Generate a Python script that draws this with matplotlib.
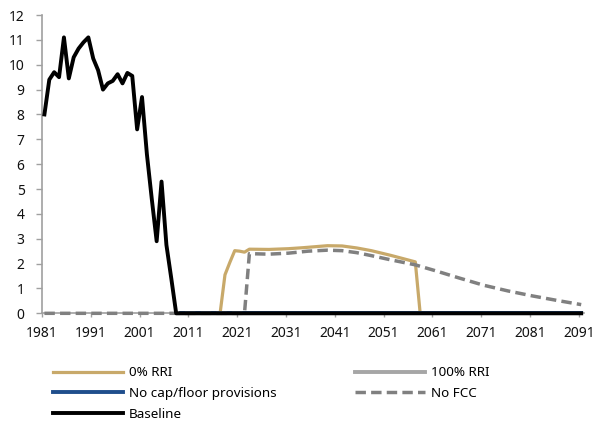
import matplotlib
matplotlib.use('Agg')
import matplotlib.pyplot as plt

plt.rcParams['font.family'] = ['Noto Sans', 'DejaVu Sans']

# baseline, yearly 1981-2008, then zero to 2091
base_years = list(range(1981, 2009)) + [2091]
base_vals = [8.0, 9.4, 9.7, 9.5, 11.1, 9.45, 10.3, 10.65, 10.9, 11.1,
             10.25, 9.78, 9.0, 9.25, 9.35, 9.62, 9.25, 9.67, 9.55, 7.4,
             8.7, 6.4, 4.6, 2.9, 5.3, 2.75, 1.4, 0.0, 0.0]

# 0% RRI
rri0_years = [2017, 2018, 2019, 2020, 2021, 2022, 2023, 2027, 2031, 2034,
              2039, 2042, 2045, 2048, 2052, 2057, 2058, 2091]
rri0_vals = [0.0, 1.55, 2.05, 2.52, 2.5, 2.46, 2.58, 2.57, 2.6, 2.64,
             2.72, 2.71, 2.63, 2.52, 2.33, 2.07, 0.0, 0.0]

# 100% RRI and no cap/floor (sit under the baseline)
rri100_years = [2009, 2091]
rri100_vals = [0.0, 0.0]
nocap_years = [2009, 2091]
nocap_vals = [0.0, 0.0]

# No FCC
fcc_years = [1981, 2022, 2023, 2027, 2031, 2035, 2039, 2042, 2045, 2048,
             2052, 2057, 2061, 2066, 2071, 2076, 2081, 2086, 2091]
fcc_vals = [0.0, 0.0, 2.4, 2.38, 2.42, 2.5, 2.54, 2.52, 2.44, 2.32,
            2.15, 1.95, 1.72, 1.42, 1.13, 0.9, 0.7, 0.52, 0.35]

xticks = list(range(1981, 2092, 10))
yticks = list(range(0, 13))

def pos(years):
    # excel category axis: points sit in the middle of each year slot
    return [y + 0.5 for y in years]

fig = plt.figure(figsize=(5.98, 4.23), dpi=100)
ax = fig.add_axes([0.0702, 0.2593, 0.9058, 0.7052])

gold = '#C8A96A'
l1, = ax.plot(pos(rri0_years), rri0_vals, color=gold, lw=2.3, label='0% RRI', clip_on=False)
l2, = ax.plot(pos(rri100_years), rri100_vals, color='#A6A6A6', lw=2.8, label='100% RRI', clip_on=False)
l3, = ax.plot(pos(nocap_years), nocap_vals, color='#1F4E8C', lw=2.8,
              label='No cap/floor provisions', clip_on=False)
l4, = ax.plot(pos(fcc_years), fcc_vals, color='#808080', lw=2.5, ls=(0, (3, 1.5)),
              dash_capstyle='butt', label='No FCC', clip_on=False)
l5, = ax.plot(pos(base_years), base_vals, color='black', lw=2.8,
              solid_joinstyle='round', label='Baseline', clip_on=False)

ax.set_xlim(1981, 2092)
ax.set_ylim(0, 12)
ax.set_xticks(xticks)
ax.set_xticklabels([str(t) for t in xticks])
ax.set_yticks(yticks)

for s in ['top', 'right']:
    ax.spines[s].set_visible(False)
for s in ['left', 'bottom']:
    ax.spines[s].set_color('#A0A0A0')
    ax.spines[s].set_linewidth(1.2)
    ax.spines[s].set_zorder(0.5)
ax.tick_params(axis='y', direction='out', length=4.5, width=1, color='#A0A0A0',
               pad=8, labelsize=10, labelcolor='#111111')
ax.tick_params(axis='x', direction='out', length=3, width=1, color='#A0A0A0',
               pad=6, labelsize=10, labelcolor='#111111')

fig.legend([l1, l3, l5, l2, l4],
           ['0% RRI', 'No cap/floor provisions', 'Baseline', '100% RRI', 'No FCC'],
           ncol=2, loc='upper left', bbox_to_anchor=(0.0886, 0.134),
           frameon=False, fontsize=9.7, handlelength=5.2, handletextpad=0.45,
           labelspacing=0.58, columnspacing=5.8, borderpad=0, borderaxespad=0)

plt.savefig('out.png', dpi=100)
